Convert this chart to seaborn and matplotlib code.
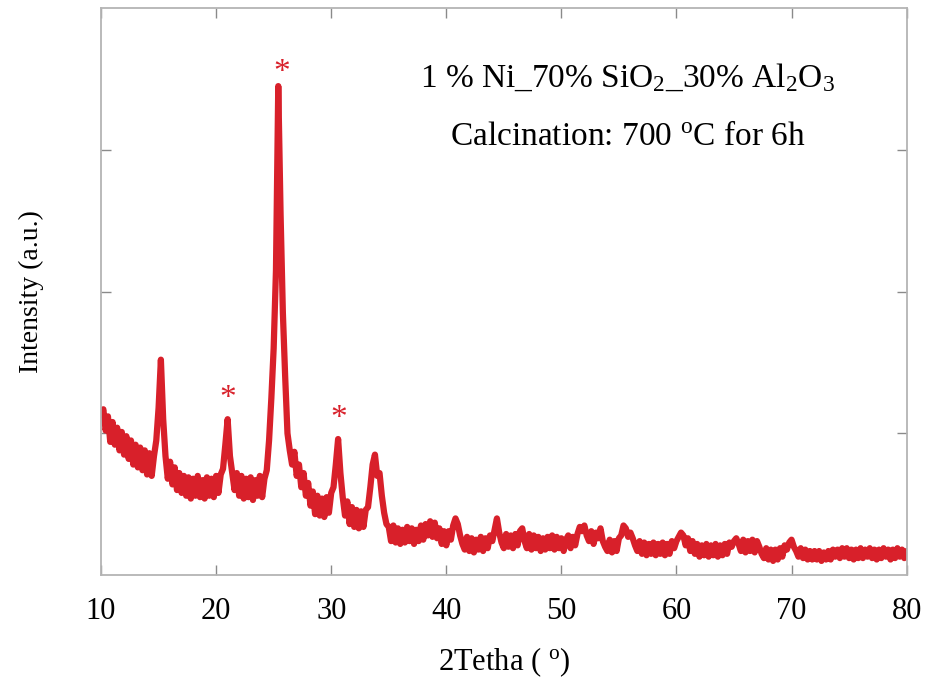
import numpy as np
import pandas as pd
import matplotlib
matplotlib.use("Agg")
import matplotlib.pyplot as plt
import seaborn as sns

# ---- data ----
two_theta = np.round(np.arange(10.0, 80.0001, 0.2), 1)  # scan grid, 0.2 deg step

intensity = [
    113, 117, 102, 112, 94, 108, 92, 104, 88, 101,      # 10.0-11.8
    85, 98, 82, 95, 78, 92, 76, 90, 74, 88,             # 12.0-13.8
    71, 86, 70, 84, 95, 118, 152, 110, 84, 68,          # 14.0-15.8
    80, 64, 76, 60, 72, 58, 70, 56, 69, 54,             # 16.0-17.8
    68, 56, 70, 55, 67, 54, 69, 56, 68, 55,             # 18.0-19.8
    70, 58, 71, 75, 92, 110, 84, 72, 60, 72,            # 20.0-21.8
    56, 70, 54, 68, 55, 69, 53, 67, 56, 70,             # 22.0-23.8
    55, 68, 74, 95, 125, 160, 215, 345, 255, 185,       # 24.0-25.8
    140, 100, 88, 78, 87, 70, 78, 62, 72, 56,           # 26.0-27.8
    65, 49, 59, 43, 56, 42, 54, 41, 55, 44,             # 28.0-29.8
    58, 62, 78, 96, 72, 55, 42, 52, 36, 48,             # 30.0-31.8
    34, 46, 33, 45, 34, 46, 48, 62, 78, 85,             # 32.0-33.8
    70, 72, 56, 44, 36, 34, 24, 35, 23, 33,             # 34.0-35.8
    22, 32, 23, 34, 24, 33, 22, 32, 24, 35,             # 36.0-37.8
    25, 36, 28, 38, 27, 37, 26, 33, 22, 31,             # 38.0-39.8
    21, 31, 25, 35, 40, 36, 28, 22, 18, 27,             # 40.0-41.8
    17, 26, 16, 25, 18, 27, 17, 26, 19, 28,             # 42.0-43.8
    24, 32, 40, 30, 23, 19, 29, 20, 28, 19,             # 44.0-45.8
    29, 21, 31, 33, 24, 19, 29, 18, 28, 19,             # 46.0-47.8
    27, 17, 26, 18, 27, 19, 28, 18, 27, 19,             # 48.0-49.8
    26, 17, 25, 28, 19, 27, 21, 29, 34, 31,             # 50.0-51.8
    35, 28, 24, 31, 22, 30, 26, 33, 24, 20,             # 52.0-53.8
    17, 25, 16, 24, 17, 26, 28, 35, 33, 27,             # 54.0-55.8
    30, 26, 21, 17, 24, 15, 23, 14, 22, 15,             # 56.0-57.8
    23, 14, 22, 15, 23, 14, 22, 15, 24, 19,             # 58.0-59.8
    24, 27, 30, 28, 21, 26, 17, 24, 15, 22,             # 60.0-61.8
    13, 21, 14, 22, 13, 21, 14, 22, 13, 21,             # 62.0-63.8
    14, 22, 15, 23, 20, 24, 26, 22, 17, 25,             # 64.0-65.8
    16, 24, 17, 25, 16, 24, 20, 15, 12, 19,             # 66.0-67.8
    11, 18, 10, 18, 11, 19, 13, 21, 18, 23,             # 68.0-69.8
    25, 20, 17, 13, 19, 12, 18, 11, 17, 11,             # 70.0-71.8
    17, 11, 17, 10, 16, 11, 17, 11, 18, 13,             # 72.0-73.8
    18, 12, 19, 13, 19, 12, 18, 11, 18, 12,             # 74.0-75.8
    19, 12, 18, 13, 19, 12, 18, 11, 18, 12,             # 76.0-77.8
    19, 13, 18, 11, 18, 12, 19, 13, 18, 12,             # 78.0-79.8
    17,                                                 # 80.0
]

marked_peaks = [21.0, 25.7, 30.65]      # positions of the '*' markers
marked_heights = [118.5, 348.5, 104.5]  # baseline heights of the '*' markers

x_ticks = [10, 20, 30, 40, 50, 60, 70, 80]
y_ticks = [100, 200, 300]

title_line1 = r"1 % Ni_70% SiO$_2$_30% Al$_2$O$_3$"
title_line2 = r"Calcination: 700 $^{\rm o}$C for 6h"
x_label = r"2Tetha ( $^{\rm o}$)"
y_label = "Intensity (a.u.)"

red = "#d8202a"

# ---- style ----
sns.set_style("white")
plt.rcParams["font.family"] = ["Liberation Serif", "DejaVu Serif"]
plt.rcParams["mathtext.fontset"] = "custom"
plt.rcParams["mathtext.rm"] = "Liberation Serif"
plt.rcParams["mathtext.it"] = "Liberation Serif:italic"
plt.rcParams["mathtext.bf"] = "Liberation Serif:bold"
plt.rcParams["mathtext.default"] = "rm"
plt.rcParams["text.color"] = "black"
plt.rcParams["axes.labelcolor"] = "black"
plt.rcParams["xtick.labelcolor"] = "black"
plt.rcParams["ytick.labelcolor"] = "black"

fig = plt.figure(figsize=(9.27, 6.79), dpi=100)
ax = fig.add_axes([0.109, 0.153, 0.869, 0.835])

df = pd.DataFrame({"two_theta": two_theta, "intensity": intensity})
sns.lineplot(data=df, x="two_theta", y="intensity", color=red, lw=4.5,
             ax=ax, estimator=None, sort=False)

for px, py in zip(marked_peaks, marked_heights):
    ax.text(px, py, "*", color=red, ha="center", va="baseline", fontsize=24)

ax.set_xlim(10, 80)
ax.set_ylim(0, 400)
ax.set_xticks(x_ticks)
ax.set_xticklabels([str(t) for t in x_ticks])
ax.set_yticks(y_ticks)
ax.set_yticklabels([])

for s in ax.spines.values():
    s.set_color("#b4b4b4")
    s.set_linewidth(1.3)
    s.set_visible(True)

ax.tick_params(axis="both", direction="in", length=7, width=1.0, color="#8a8a8a",
               top=True, right=True, labelsize=22, pad=16, labelcolor="black")
ax.tick_params(axis="both", which="both", bottom=True, left=True)

ax.set_xlabel(x_label, fontsize=22, labelpad=14)
ax.set_ylabel(y_label, fontsize=20, labelpad=25)

fig.text(627 / 927, 1 - 78 / 679, title_line1, ha="center", va="center", fontsize=24)
fig.text(628 / 927, 1 - 137 / 679, title_line2, ha="center", va="center", fontsize=24)

fig.savefig("out.png", dpi=100)
